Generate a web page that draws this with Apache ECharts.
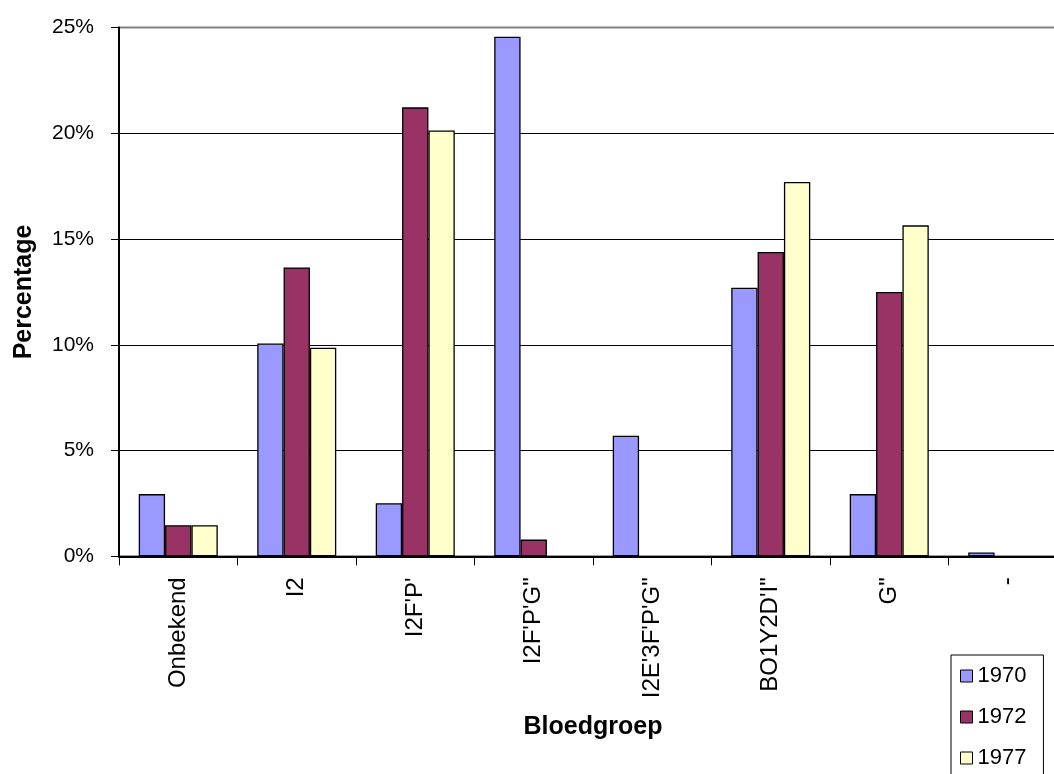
<!DOCTYPE html>
<html>
<head>
<meta charset="utf-8">
<script src="https://cdn.jsdelivr.net/npm/echarts@6/dist/echarts.min.js"></script>
<style>
  html, body { margin: 0; padding: 0; background: #fff; }
  #chart { width: 1054px; height: 774px; }
</style>
</head>
<body>
<div id="chart"></div>
<script>
// Blood groups (x categories)
const categories = ['Onbekend', 'I2', "I2F'P'", "I2F'P'G\"", "I2E'3F'P'G\"", "BO1Y2D'I\"", 'G"', '-'];

// Share per blood group, in percent (null = no bar)
const years = ['1970', '1972', '1977'];
const values1970 = [2.94, 10.06, 2.51, 24.57, 5.70, 12.70, 2.94, 0.18];
const values1972 = [1.47, 13.66, 21.23, 0.79, null, 14.39, 12.50, null];
const values1977 = [1.47, 9.86, 20.14, null, null, 17.70, 15.65, null];

const seriesColors = ['#9999FF', '#993366', '#FFFFCC'];
const FONT = '"Liberation Sans", Arial, sans-serif';

const chart = echarts.init(document.getElementById('chart'), null, { renderer: 'canvas' });

function barSeries(name, data, color) {
  return {
    name: name,
    type: 'bar',
    data: data,
    barGap: '0%',
    barCategoryGap: '33.3%',
    itemStyle: { color: color, borderColor: '#000', borderWidth: 1.3 },
    emphasis: { disabled: true }
  };
}

chart.setOption({
  backgroundColor: '#fff',
  animation: false,
  textStyle: { fontFamily: FONT },
  grid: {
    left: 119, top: 27.6, width: 948, height: 528.7,
    outerBoundsMode: 'none',
    containLabel: false,
    show: true, borderColor: '#808080', borderWidth: 2,
    backgroundColor: 'transparent'
  },
  legend: {
    data: years,
    orient: 'vertical',
    left: 951, top: 655,
    height: 160,
    padding: [10, 17, 10, 9],
    icon: 'rect',
    itemWidth: 12, itemHeight: 12,
    itemGap: 19,
    borderColor: '#000', borderWidth: 1,
    selectedMode: false,
    textStyle: { fontFamily: FONT, fontSize: 22, color: '#000', lineHeight: 22 },
    itemStyle: { borderColor: '#000', borderWidth: 1 }
  },
  xAxis: {
    type: 'category',
    data: categories,
    name: 'Bloedgroep',
    nameLocation: 'middle',
    nameGap: 158,
    nameTextStyle: { fontFamily: FONT, fontSize: 25, fontWeight: 'bold', color: '#000' },
    axisLine: { lineStyle: { color: '#000', width: 2 } },
    axisTick: { show: true, length: 9, lineStyle: { color: '#000', width: 1 } },
    axisLabel: { rotate: 90, margin: 21, fontFamily: FONT, fontSize: 24, color: '#000', interval: 0 },
    splitLine: { show: false }
  },
  yAxis: {
    type: 'value',
    min: 0, max: 25, interval: 5,
    name: 'Percentage',
    nameLocation: 'middle',
    nameRotate: 90,
    nameGap: 82,
    nameTextStyle: { fontFamily: FONT, fontSize: 25, fontWeight: 'bold', color: '#000' },
    axisLine: { show: true, lineStyle: { color: '#000', width: 2 } },
    axisTick: { show: true, length: 8, lineStyle: { color: '#000', width: 1 } },
    axisLabel: { formatter: '{value}%', margin: 25, fontFamily: FONT, fontSize: 21, color: '#000' },
    splitLine: { show: true, showMaxLine: false, lineStyle: { color: '#000', width: 1 } }
  },
  series: [
    barSeries(years[0], values1970, seriesColors[0]),
    barSeries(years[1], values1972, seriesColors[1]),
    barSeries(years[2], values1977, seriesColors[2])
  ]
});
</script>
</body>
</html>
